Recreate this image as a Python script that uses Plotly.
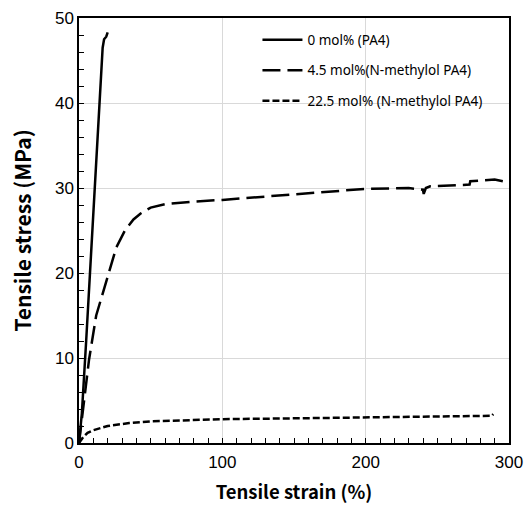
import plotly.graph_objects as go

# Data
pa4_strain = [0, 2, 5, 10, 14, 16.5, 17.5, 19, 20]
pa4_stress = [0, 3.5, 12, 27, 40, 46.5, 47.5, 47.8, 48.3]

nm45_strain = [0, 3, 7, 12, 20, 26, 32, 38, 43, 50, 60, 80, 100, 130, 160, 200, 230, 240, 240.5, 242, 245, 260, 270, 272.5, 273, 285, 290, 298]
nm45_stress = [0, 4, 9.8, 15, 19.5, 23, 25, 26.3, 27, 27.7, 28.1, 28.4, 28.6, 29.0, 29.4, 29.9, 30.0, 29.8, 29.3, 30.0, 30.2, 30.3, 30.3, 30.4, 30.8, 30.9, 31.0, 30.7]

nm225_strain = [0, 3, 6, 10, 20, 35, 50, 75, 100, 150, 200, 240, 260, 275, 285, 288, 289]
nm225_stress = [0, 0.7, 1.2, 1.5, 2.0, 2.35, 2.55, 2.7, 2.8, 2.9, 3.0, 3.05, 3.1, 3.15, 3.2, 3.2, 3.4]

names = ["0 mol% (PA4)", "4.5 mol%(N-methylol PA4)", "22.5 mol% (N-methylol PA4)"]

x_ticks = [0, 100, 200, 300]
y_ticks = [0, 10, 20, 30, 40, 50]

fig = go.Figure()
fig.add_trace(go.Scatter(x=pa4_strain, y=pa4_stress, mode="lines", name=names[0],
                         legendgroup="a", line=dict(color="black", width=2.5)))
fig.add_trace(go.Scatter(x=nm45_strain, y=nm45_stress, mode="lines", name=names[1],
                         legendgroup="b", line=dict(color="black", width=2.5, dash="18px,7px")))
fig.add_trace(go.Scatter(x=nm225_strain, y=nm225_stress, mode="lines", name=names[2],
                         legendgroup="c", line=dict(color="black", width=2.5, dash="7px,3px")))

axis_common = dict(
    showline=True, linecolor="black", linewidth=1.5, mirror=True,
    showgrid=True, gridcolor="#d9d9d9", gridwidth=1,
    ticks="inside", ticklen=5, tickcolor="black", tickwidth=1,
    zeroline=False, automargin=False,
    tickfont=dict(family="Liberation Sans, Arial", size=17, color="black"),
)

fig.update_xaxes(range=[0, 300], tickvals=x_ticks, ticklabelstandoff=3,
                 minor=dict(dtick=10, ticks="inside", ticklen=5, tickcolor="black", showgrid=False),
                 title=dict(text="<b>Tensile strain (%)</b>",
                            font=dict(family="Noto Sans CJK JP", size=18.5, color="black"), standoff=15),
                 **axis_common)
fig.update_yaxes(range=[0, 50], tickvals=y_ticks,
                 minor=dict(dtick=2, ticks="inside", ticklen=5, tickcolor="black", showgrid=False),
                 title=dict(text="<b>Tensile stress (MPa)</b>",
                            font=dict(family="Noto Sans CJK JP", size=21, color="black"), standoff=18),
                 **axis_common)

fig.update_layout(
    width=525, height=506,
    margin=dict(l=79, r=16, t=18, b=63),
    plot_bgcolor="white", paper_bgcolor="white",
    showlegend=True,
    legend=dict(x=0.415, y=0.985, xanchor="left", yanchor="top",
                bgcolor="rgba(0,0,0,0)", traceorder="grouped", tracegroupgap=10,
                itemwidth=40,
                font=dict(family="Noto Sans", size=13.5, color="black")),
)

fig.write_html("out.html", config={"displayModeBar": False},
               post_script="document.body.style.margin='0';document.body.style.overflow='hidden';")
